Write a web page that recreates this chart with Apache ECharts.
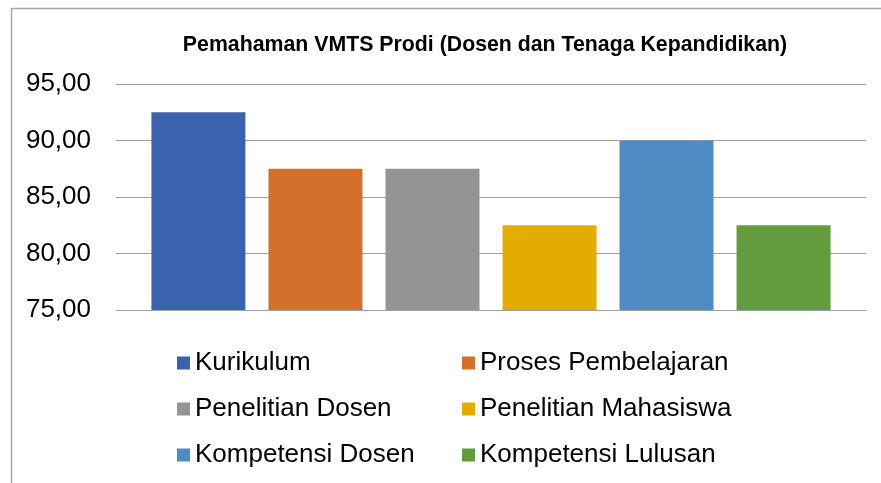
<!DOCTYPE html>
<html>
<head>
<meta charset="utf-8">
<script src="https://cdn.jsdelivr.net/npm/echarts@6/dist/echarts.min.js"></script>
<style>
  html, body { margin: 0; padding: 0; background: #fff; }
  #chart { width: 881px; height: 483px; }
</style>
</head>
<body>
<div id="chart"></div>
<script>
// data
var seriesNames = ['Kurikulum', 'Proses Pembelajaran', 'Penelitian Dosen',
                   'Penelitian Mahasiswa', 'Kompetensi Dosen', 'Kompetensi Lulusan'];
var seriesValues = [92.5, 87.5, 87.5, 82.5, 90.0, 82.5];
var seriesColors = ['#3b63ad', '#d56f2c', '#949494', '#e4ab00', '#4f8bc2', '#639c3d'];
var categories = [''];
var yTicks = [75, 80, 85, 90, 95];

var font = 'Liberation Sans, Arial, sans-serif';

var series = [];
for (var i = 0; i < seriesNames.length; i++) {
    series.push({
        name: seriesNames[i],
        type: 'bar',
        barWidth: 94,
        barGap: '24.5%',
        itemStyle: { color: seriesColors[i] },
        data: [seriesValues[i]]
    });
}

var legendText = { fontFamily: font, fontSize: 26, color: '#000', lineHeight: 26 };

var option = {
    animation: false,
    backgroundColor: '#fff',
    title: {
        text: 'Pemahaman VMTS Prodi (Dosen dan Tenaga Kepandidikan)',
        left: 480,
        textAlign: 'center',
        top: 30,
        textStyle: { fontFamily: font, fontWeight: 'bold', fontSize: 21.3, color: '#000' }
    },
    legend: [
        {
            data: [seriesNames[0], seriesNames[2], seriesNames[4]],
            orient: 'vertical',
            left: 177,
            top: 350,
            padding: 0,
            itemWidth: 13,
            itemHeight: 13,
            itemGap: 20,
            icon: 'rect',
            textStyle: legendText
        },
        {
            data: [seriesNames[1], seriesNames[3], seriesNames[5]],
            orient: 'vertical',
            left: 462,
            top: 350,
            padding: 0,
            itemWidth: 13,
            itemHeight: 13,
            itemGap: 20,
            icon: 'rect',
            textStyle: legendText
        }
    ],
    grid: { left: 116, right: 15, top: 84, bottom: 173, containLabel: false },
    xAxis: {
        type: 'category',
        data: categories,
        axisLine: { show: true, lineStyle: { color: '#a0a0a0', width: 1 } },
        axisTick: { show: false },
        axisLabel: { show: false }
    },
    yAxis: {
        type: 'value',
        min: yTicks[0],
        max: yTicks[yTicks.length - 1],
        interval: 5,
        axisLine: { show: false },
        axisTick: { show: false },
        splitLine: { lineStyle: { color: '#a0a0a0', width: 1 } },
        axisLabel: {
            margin: 25,
            color: '#000',
            fontFamily: font,
            fontSize: 26,
            formatter: function (v) { return v.toFixed(2).replace('.', ','); }
        }
    },
    graphic: [
        {
            type: 'rect',
            left: 9, top: 6,
            shape: { width: 900, height: 500 },
            style: { fill: 'none', stroke: '#a6a6a6', lineWidth: 1.5 },
            silent: true
        }
    ],
    series: series
};

var chart = echarts.init(document.getElementById('chart'));
chart.setOption(option);
</script>
</body>
</html>
